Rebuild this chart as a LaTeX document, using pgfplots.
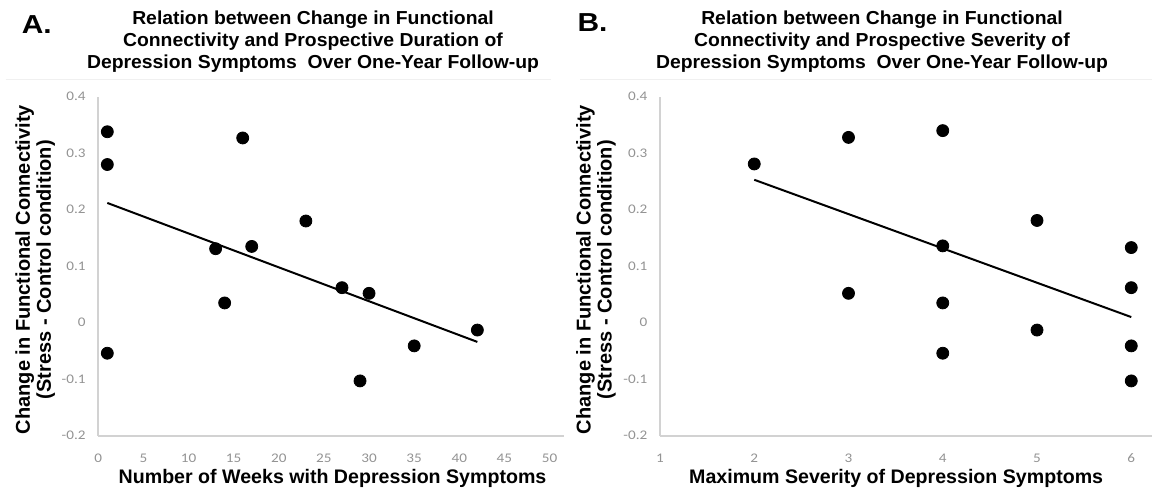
\documentclass[border=0pt]{standalone}
\usepackage{fontspec}
\setmainfont{Liberation Sans}
\newfontfamily\carlito{Carlito}
\usepackage{pgfplots}
\pgfplotsset{compat=1.18}
\begin{document}
\begin{tikzpicture}
\path[use as bounding box] (0,0) rectangle (576pt,247.5pt);
\pgfplotsset{
  myax/.style={
    scale only axis,
    height=169.5pt,
    axis lines*=left,
    axis line style={draw=gray!35, line width=0.8pt},
    major tick length=0pt,
    ymin=-0.2, ymax=0.4,
    ytick={-0.2,-0.1,0,0.1,0.2,0.3,0.4},
    yticklabels={-0.2,-0.1,0,0.1,0.2,0.3,0.4},
    ticklabel style={font=\carlito\fontsize{6.6}{7}\selectfont, text=gray!85, xscale=1.15},
    xticklabel style={yshift=-5.5pt},
    yticklabel style={xshift=-2pt},
    xlabel style={font=\bfseries\fontsize{9.8}{11}\selectfont, anchor=center},
    ylabel style={font=\bfseries\fontsize{10}{10.5}\selectfont, align=center, anchor=center},
    clip=false,
  },
  dots/.style={only marks, mark=*, mark size=3pt, black},
  fit/.style={black, line width=1pt, no marks},
}
% Panel A
\begin{axis}[myax, at={(49.15pt,29.65pt)}, anchor=south west, width=232.85pt,
  xmin=0, xmax=51.6,
  xtick={0,5,...,50},
  xticklabels={0,5,10,15,20,25,30,35,40,45,50},
  xlabel={Number of Weeks with Depression Symptoms},
  xlabel style={at={(axis description cs:0.503,0)}, yshift=-21.5pt},
  ylabel={Change in Functional Connectivity\\(Stress - Control condition)},
  ylabel style={at={(axis description cs:0,0.49)}, yshift=31.6pt},
]
\addplot[dots] coordinates {
 (1,0.338) (1,0.280) (1,-0.054) (16,0.327) (13,0.131) (17,0.135)
 (14,0.035) (23,0.180) (27,0.062) (30,0.052) (35,-0.041) (29,-0.103) (42,-0.013)
};
\addplot[fit] coordinates {(1,0.212) (42,-0.034)};
\end{axis}
% Panel B
\begin{axis}[myax, at={(330pt,29.65pt)}, anchor=south west, width=246pt,
  xmin=1, xmax=6.22,
  xtick={1,2,3,4,5,6},
  xticklabels={1,2,3,4,5,6},
  xlabel={Maximum Severity of Depression Symptoms},
  xlabel style={at={(axis description cs:0.48,0)}, yshift=-21.5pt},
  ylabel={Change in Functional Connectivity\\(Stress - Control condition)},
  ylabel style={at={(axis description cs:0,0.49)}, yshift=32pt},
]
\addplot[dots] coordinates {
 (2,0.281) (3,0.328) (3,0.052) (4,0.340) (4,0.136) (4,0.035) (4,-0.054)
 (5,0.181) (5,-0.013) (6,0.133) (6,0.062) (6,-0.041) (6,-0.103)
};
\addplot[fit] coordinates {(2,0.253) (6,0.010)};
\end{axis}
% separators and titles
\draw[gray!12, line width=0.5pt] (2.75pt,208pt) -- (275.5pt,208pt);
\draw[gray!12, line width=0.5pt] (290pt,208pt) -- (576pt,208pt);
\node[font=\bfseries\fontsize{9.4}{11}\selectfont, align=center, xscale=1.03] at (156.5pt,226.5pt)
  {Relation between Change in Functional\\Connectivity and Prospective Duration of\\Depression Symptoms\ \ Over One-Year Follow-up};
\node[font=\bfseries\fontsize{9.4}{11}\selectfont, align=center, xscale=1.03] at (441pt,226.5pt)
  {Relation between Change in Functional\\Connectivity and Prospective Severity of\\Depression Symptoms\ \ Over One-Year Follow-up};
\node[font=\bfseries\fontsize{13}{15}\selectfont, xscale=1.15] at (18.4pt,235pt) {A.};
\node[font=\bfseries\fontsize{13}{15}\selectfont, xscale=1.15] at (296.3pt,236pt) {B.};
\end{tikzpicture}
\end{document}
